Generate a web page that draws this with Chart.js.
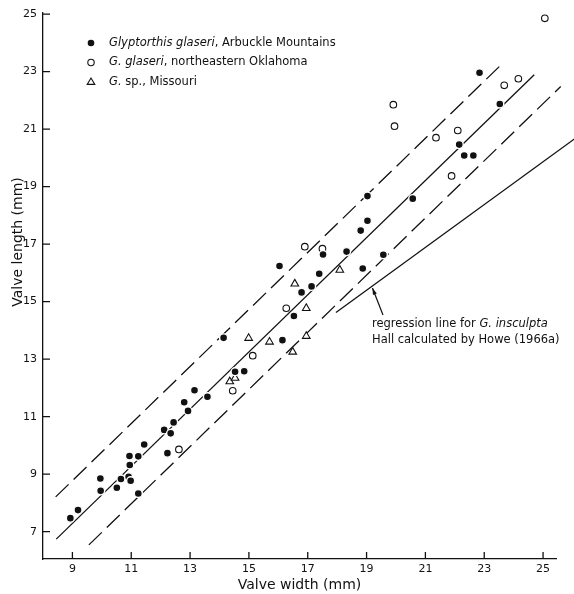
<!DOCTYPE html>
<html>
<head>
<meta charset="utf-8">
<script src="https://cdn.jsdelivr.net/npm/chart.js@4"></script>
<style>
html, body { margin: 0; padding: 0; background: #fff; }
</style>
</head>
<body>
<canvas id="chart" width="574" height="594"></canvas>
<script>
const xTicks = [9, 11, 13, 15, 17, 19, 21, 23, 25];
const yTicks = [7, 9, 11, 13, 15, 17, 19, 21, 23, 25];

// Glyptorthis glaseri, Arbuckle Mountains (filled circles)
const arbuckleW = [8.93, 9.19, 9.95, 9.96, 10.51, 10.65, 10.91, 10.98, 10.95, 10.94, 11.24, 11.24, 11.44, 12.23, 12.12, 12.34, 12.44, 12.80, 12.93, 13.15, 13.59, 14.14, 14.53, 14.84, 16.04, 16.14, 16.53, 16.79, 17.13, 17.39, 17.52, 18.32, 18.80, 18.87, 19.03, 19.03, 19.57, 20.57, 22.15, 22.32, 22.63, 22.84, 23.53];
const arbuckleL = [7.47, 7.75, 8.85, 8.42, 8.53, 8.83, 8.91, 8.77, 9.32, 9.63, 9.62, 8.33, 10.03, 9.73, 10.54, 10.42, 10.80, 11.50, 11.20, 11.92, 11.69, 13.74, 12.56, 12.58, 16.24, 13.66, 14.50, 15.32, 15.53, 15.97, 16.64, 16.74, 17.47, 16.15, 17.81, 18.67, 16.63, 18.58, 20.46, 20.08, 20.08, 22.96, 21.87];

// G. glaseri, northeastern Oklahoma (open circles)
const oklahomaW = [12.62, 14.45, 15.13, 16.27, 16.90, 17.50, 19.91, 19.95, 21.36, 21.89, 22.10, 23.68, 24.16, 25.06];
const oklahomaL = [9.86, 11.90, 13.12, 14.77, 16.91, 16.84, 21.85, 21.10, 20.70, 19.37, 20.95, 22.52, 22.75, 24.85];

// G. sp., Missouri (open triangles)
const missouriW = [14.35, 14.53, 14.99, 15.70, 16.49, 16.56, 16.95, 16.95, 18.09];
const missouriL = [12.22, 12.34, 13.73, 13.60, 13.25, 15.62, 14.77, 13.80, 16.10];

// fitted lines (end points)
const upperW = [8.43, 23.60], upperL = [8.21, 23.26];
const centerW = [8.45, 24.70], centerL = [6.74, 22.89];
const lowerW = [9.56, 25.60], lowerL = [6.54, 22.48];
const howeW = [17.96, 26.10], howeL = [14.62, 20.68];

const pts = (w, l) => w.map((x, i) => ({ x: x, y: l[i] }));
const FONT = '"DejaVu Sans", sans-serif';
const INK = '#111';

function drawTri(ctx, x, y, r) {
    ctx.beginPath();
    ctx.moveTo(x, y - r);
    ctx.lineTo(x + r * 0.95, y + r * 0.6);
    ctx.lineTo(x - r * 0.95, y + r * 0.6);
    ctx.closePath();
    ctx.fillStyle = '#fff';
    ctx.fill();
    ctx.stroke();
}

function mixedText(ctx, parts, x, y) {
    parts.forEach(p => {
        ctx.font = (p[1] ? 'italic ' : '') + '11.5px ' + FONT;
        ctx.fillText(p[0], x, y);
        x += ctx.measureText(p[0]).width;
    });
}

const overlay = {
    id: 'overlay',
    afterDraw(chart) {
        const ctx = chart.ctx, xs = chart.scales.x, ys = chart.scales.y;
        ctx.save();
        ctx.strokeStyle = INK;
        ctx.fillStyle = INK;
        ctx.lineWidth = 1.3;

        // tick marks point inward
        ctx.beginPath();
        xTicks.forEach(v => {
            const p = xs.getPixelForValue(v);
            ctx.moveTo(p, ys.bottom); ctx.lineTo(p, ys.bottom - 7);
        });
        yTicks.forEach(v => {
            const p = ys.getPixelForValue(v);
            ctx.moveTo(xs.left, p); ctx.lineTo(xs.left + 7, p);
        });
        ctx.stroke();

        // y title
        ctx.save();
        ctx.translate(18, 242);
        ctx.rotate(-Math.PI / 2);
        ctx.font = '14px ' + FONT;
        ctx.textAlign = 'center';
        ctx.textBaseline = 'middle';
        ctx.fillText('Valve length (mm)', 0, 0);
        ctx.restore();

        // legend
        ctx.textBaseline = 'middle';
        ctx.textAlign = 'left';
        ctx.lineWidth = 1.1;
        ctx.beginPath(); ctx.arc(91, 43, 3.3, 0, Math.PI * 2); ctx.fill();
        ctx.beginPath(); ctx.arc(91, 62.5, 3.2, 0, Math.PI * 2); ctx.fillStyle = '#fff'; ctx.fill(); ctx.stroke();
        drawTri(ctx, 91, 82, 4);
        ctx.fillStyle = INK;
        mixedText(ctx, [['Glyptorthis glaseri', true], [', Arbuckle Mountains', false]], 109, 43);
        mixedText(ctx, [['G. glaseri', true], [', northeastern Oklahoma', false]], 109, 62.5);
        mixedText(ctx, [['G.', true], [' sp., Missouri', false]], 109, 82);

        // annotation for the Howe regression line
        mixedText(ctx, [['regression line for ', false], ['G. insculpta', true]], 372, 324);
        mixedText(ctx, [['Hall calculated by Howe (1966a)', false]], 372, 340);

        const slope = (howeL[1] - howeL[0]) / (howeW[1] - howeW[0]);
        const tx = xs.getPixelForValue(19.2);
        const ty = ys.getPixelForValue(howeL[0] + slope * (19.2 - howeW[0])) + 2;
        const bx = 383, by = 315;
        ctx.lineWidth = 1.2;
        ctx.beginPath(); ctx.moveTo(bx, by); ctx.lineTo(tx, ty); ctx.stroke();
        const a = Math.atan2(ty - by, tx - bx);
        ctx.beginPath();
        ctx.moveTo(tx, ty);
        ctx.lineTo(tx - 7 * Math.cos(a - 0.3), ty - 7 * Math.sin(a - 0.3));
        ctx.lineTo(tx - 7 * Math.cos(a + 0.3), ty - 7 * Math.sin(a + 0.3));
        ctx.closePath();
        ctx.fill();
        ctx.restore();
    }
};

const lineSet = (w, l, dash, clip) => ({
    type: 'line',
    data: pts(w, l),
    borderColor: INK,
    borderWidth: 1.3,
    borderDash: dash,
    pointRadius: 0,
    fill: false,
    clip: clip,
    order: 5
});

new Chart(document.getElementById('chart').getContext('2d'), {
    type: 'scatter',
    data: {
        datasets: [
            { data: pts(arbuckleW, arbuckleL), pointStyle: 'circle', pointRadius: 4, backgroundColor: INK, borderColor: '#fff', borderWidth: 1.4, order: 1 },
            { data: pts(oklahomaW, oklahomaL), pointStyle: 'circle', pointRadius: 3.3, backgroundColor: '#fff', borderColor: INK, borderWidth: 1.1, order: 1 },
            { data: pts(missouriW, missouriL), pointStyle: 'triangle', pointRadius: 4.4, backgroundColor: '#fff', borderColor: INK, borderWidth: 1.1, order: 1 },
            lineSet(upperW, upperL, [18, 7], true),
            lineSet(centerW, centerL, [], true),
            lineSet(lowerW, lowerL, [18, 7], false),
            lineSet(howeW, howeL, [], false)
        ]
    },
    options: {
        responsive: false,
        animation: false,
        devicePixelRatio: 1,
        layout: { padding: { left: 0, right: 18, top: 12, bottom: 0 } },
        plugins: { legend: { display: false }, tooltip: { enabled: false } },
        scales: {
            x: {
                type: 'linear', min: 8, max: 25.44,
                afterBuildTicks: s => { s.ticks = xTicks.map(v => ({ value: v })); },
                afterFit: s => { s.height = 35; },
                grid: { display: true, drawOnChartArea: false, drawTicks: false },
                border: { display: true, color: INK, width: 1.3 },
                ticks: { color: INK, padding: 4, font: { family: FONT, size: 11 } },
                title: { display: true, text: 'Valve width (mm)', color: INK, padding: 0, font: { family: FONT, size: 14 } }
            },
            y: {
                type: 'linear', min: 6.05, max: 25.05,
                afterBuildTicks: s => { s.ticks = yTicks.map(v => ({ value: v })); },
                afterFit: s => { s.width = 43; },
                grid: { display: true, drawOnChartArea: false, drawTicks: false },
                border: { display: true, color: INK, width: 1.3 },
                ticks: { color: INK, padding: 6, font: { family: FONT, size: 11 } }
            }
        }
    },
    plugins: [overlay]
});
</script>
</body>
</html>
